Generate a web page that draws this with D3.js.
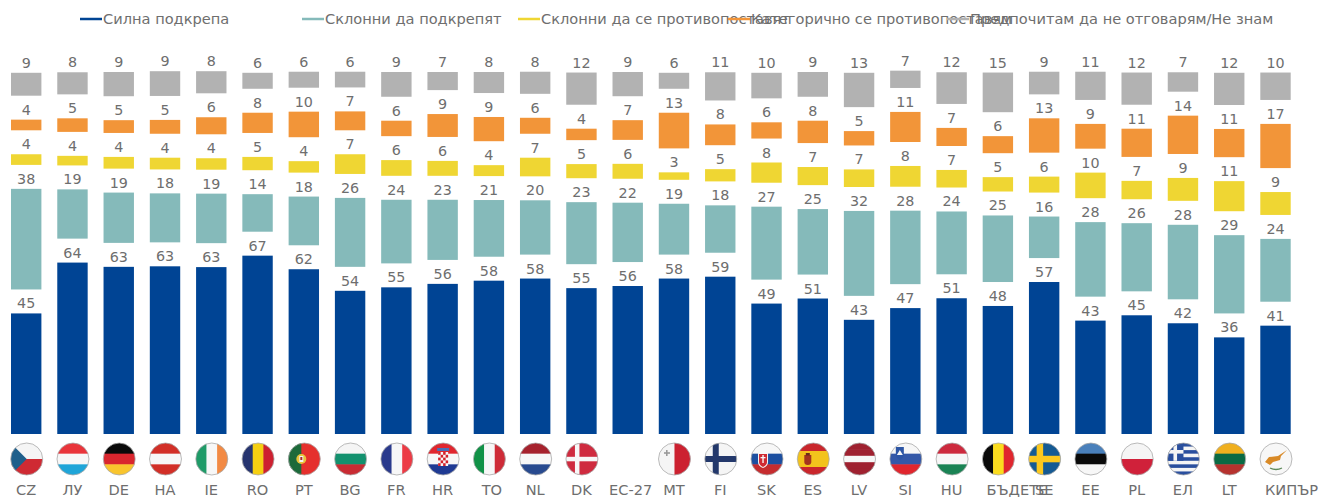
<!DOCTYPE html>
<html lang="bg">
<head>
<meta charset="UTF-8">
<title>Подкрепа</title>
<script src="https://cdn.jsdelivr.net/npm/d3@7"></script>
<style>
    body { margin: 0; background: #fff; overflow: hidden; }
    svg { display: block; }
    text { font-family: "DejaVu Sans", sans-serif; fill: #6e6e6e; }
</style>
</head>
<body>
<div id="chart"></div>
<script>
    const countries = ["CZ", "ЛУ", "DE", "НА", "IE", "RO", "PT", "BG", "FR", "HR", "ТО", "NL", "DK", "EC-27", "MT", "FI", "SK", "ES", "LV", "SI", "HU", "БЪДЕТЕ", "SE", "EE", "PL", "ЕЛ", "LT", "КИПЪР"];
    // values, the labels show them rounded
    const strong = [45.3, 64.4, 62.8, 63.0, 62.7, 67.0, 61.9, 53.8, 55.1, 56.4, 57.6, 58.4, 54.8, 55.6, 58.4, 59.1, 49.0, 50.9, 42.9, 47.3, 51.0, 48.1, 57.1, 42.6, 44.6, 41.6, 36.3, 40.7];
    const inclined = [37.8, 18.5, 18.9, 18.4, 18.6, 14.1, 18.3, 25.9, 23.9, 22.6, 21.3, 20.4, 23.3, 22.3, 19.1, 17.8, 27.4, 24.6, 31.9, 27.6, 23.6, 25.0, 15.6, 28.0, 25.6, 28.0, 29.4, 23.6];
    const opposed = [4.0, 3.6, 4.4, 4.4, 4.3, 5.0, 4.3, 7.4, 5.9, 5.6, 4.1, 7.0, 5.3, 5.6, 2.8, 4.6, 7.6, 6.8, 6.6, 7.8, 6.6, 5.4, 6.0, 9.6, 6.9, 8.6, 11.3, 8.6];
    const strongOpposed = [4.0, 5.1, 4.8, 5.2, 6.4, 7.6, 9.6, 7.1, 5.8, 8.6, 9.1, 6.0, 4.3, 7.4, 13.4, 7.8, 6.1, 8.4, 5.4, 11.3, 6.8, 6.4, 12.9, 9.3, 10.6, 14.4, 10.6, 16.6];
    const noAnswer = [8.6, 8.3, 9.1, 9.3, 8.3, 6.0, 6.0, 5.9, 9.3, 6.8, 7.9, 8.3, 12.1, 9.1, 6.0, 10.6, 9.6, 9.3, 12.9, 6.5, 11.9, 14.9, 8.5, 10.6, 12.1, 7.3, 12.1, 10.3];

    const seriesNames = ["Силна подкрепа", "Склонни да подкрепят", "Склонни да се противопоставят", "Категорично се противопоставям", "Предпочитам да не отговарям/Не знам"];
    const seriesColors = ["#004494", "#85baba", "#efd633", "#f29539", "#b2b2b2"];
    const seriesValues = [strong, inclined, opposed, strongOpposed, noAnswer];
    const spacer = 9; // invisible gap series between the segments

    // stripes of each flag, extras are added in drawFlag
    const flags = {
        "CZ": ["h", "#f5f5f5", "#cf2a33"],
        "ЛУ": ["h", "#e9353b", "#f7f7f7", "#1fa5d8"],
        "DE": ["h", "#0a0a0a", "#d9262e", "#f9c52d"],
        "НА": ["h", "#d22f27", "#f7f7f7", "#d22f27"],
        "IE": ["v", "#1f9b68", "#f7f7f7", "#f28a44"],
        "RO": ["v", "#26346f", "#f5cf12", "#cd2030"],
        "PT": ["v", "#1c6a3a", "#e5302d", "#e5302d"],
        "BG": ["h", "#f5f5f5", "#13916e", "#c92b33"],
        "FR": ["v", "#2a3a8c", "#f7f7f7", "#ec3b45"],
        "HR": ["h", "#e0262e", "#f7f7f7", "#1f3a93"],
        "ТО": ["v", "#119247", "#f7f7f7", "#ce2b37"],
        "NL": ["h", "#a6222d", "#f7f7f7", "#284a8f"],
        "DK": ["h", "#cf2b3f"],
        "MT": ["v", "#f5f5f5", "#cc2130"],
        "FI": ["h", "#f5f5f5"],
        "SK": ["h", "#f7f7f7", "#1c4fa0", "#c62c2f"],
        "ES": ["h", "#c9262c", "#f3c31c", "#f3c31c", "#c9262c"],
        "LV": ["h", "#9f2130", "#9f2130", "#f7f7f7", "#9f2130", "#9f2130"],
        "SI": ["h", "#f7f7f7", "#3458a8", "#e0262e"],
        "HU": ["h", "#cd2a3e", "#f7f7f7", "#1a8354"],
        "БЪДЕТЕ": ["v", "#0a0a0a", "#fbdc1f", "#e0262e"],
        "SE": ["h", "#155a93"],
        "EE": ["h", "#4a80bb", "#0a0a0a", "#f7f7f7"],
        "PL": ["h", "#f5f5f5", "#d0213a"],
        "ЕЛ": ["h", "#2a4f9e", "#f5f5f5", "#2a4f9e", "#f5f5f5", "#2a4f9e", "#f5f5f5", "#2a4f9e", "#f5f5f5", "#2a4f9e"],
        "LT": ["h", "#f0b01f", "#0a6a44", "#b6322e"],
        "КИПЪР": ["h", "#f7f7f7"]
    };

    const labelShift = { "ТО": 3, "EC-27": 3, "БЪДЕТЕ": 19, "КИПЪР": 16 };

    const width = 1333, height = 497;
    const svg = d3.select("#chart").append("svg").attr("width", width).attr("height", height);

    const x = d3.scaleBand().domain(countries).range([11, 1290.7]).paddingInner(0.343).paddingOuter(0);
    const y = d3.scaleLinear().domain([0, 100 + 4 * spacer]).range([434, 72]);

    // legend
    const legendX = [80, 302, 518, 728, 947];
    seriesNames.forEach((name, i) => {
        const g = svg.append("g").attr("transform", `translate(${legendX[i]},19)`);
        g.append("line").attr("x2", 22).attr("stroke", seriesColors[i]).attr("stroke-width", 2.5);
        g.append("text").attr("x", 23).attr("dy", "0.35em").attr("font-size", 14.6).text(name);
    });

    // stacked bars with the spacer between segments
    countries.forEach((c, i) => {
        let base = 0;
        const cx = x(c) + x.bandwidth() / 2;
        seriesValues.forEach((vals, s) => {
            const v = vals[i];
            svg.append("rect")
                .attr("x", x(c)).attr("width", x.bandwidth())
                .attr("y", y(base + v)).attr("height", y(base) - y(base + v))
                .attr("fill", seriesColors[s]);
            svg.append("text")
                .attr("x", cx).attr("y", y(base + v) - 5)
                .attr("text-anchor", "middle").attr("font-size", 14.3)
                .text(Math.round(v));
            base += v + spacer;
        });
        svg.append("text")
            .attr("x", cx + (labelShift[c] || 0)).attr("y", 495)
            .attr("text-anchor", "middle").attr("font-size", 14.6)
            .text(c);
        if (flags[c]) drawFlag(c, cx + 0.5, 459);
    });

    function drawFlag(c, cx, cy) {
        const r = 16;
        const id = "clip" + countries.indexOf(c);
        svg.append("clipPath").attr("id", id).append("circle").attr("r", r);
        const holder = svg.append("g").attr("transform", `translate(${cx},${cy})`);
        const g = holder.append("g").attr("clip-path", `url(#${id})`);
        const [dir, ...colors] = flags[c];

        // stripes
        const band = d3.scaleBand().domain(d3.range(colors.length)).range([-r, r]);
        colors.forEach((col, i) => {
            g.append("rect")
                .attr("x", dir === "v" ? band(i) : -r).attr("y", dir === "h" ? band(i) : -r)
                .attr("width", dir === "v" ? band.bandwidth() + 0.5 : 2 * r)
                .attr("height", dir === "h" ? band.bandwidth() + 0.5 : 2 * r)
                .attr("fill", col);
        });
        const rect = (px, py, w, h, col) => g.append("rect").attr("x", px).attr("y", py).attr("width", w).attr("height", h).attr("fill", col);
        const shape = (d, col) => g.append("path").attr("d", d).attr("fill", col);

        if (c === "CZ") shape("M-16,-16L0,0L-16,16Z", "#1f5f8b");
        if (c === "PT") {
            rect(-16, -16, 13, 32, "#1c6a3a");
            g.append("circle").attr("cx", -3).attr("r", 5).attr("fill", "#e8c33a");
            rect(-5, -3, 4, 6, "#f2f2f2");
            rect(-4, -2, 2, 3, "#b02a2a");
        }
        if (c === "HR") {
            rect(-5, -7, 10, 14, "#f7f7f7");
            d3.range(5).forEach(row => d3.range(4).forEach(col => {
                if ((row + col) % 2 === 0) rect(-5 + col * 2.5, -7 + row * 2.8, 2.5, 2.8, "#d3222a");
            }));
            rect(-6, -11, 12, 3, "#4a6fb5");
        }
        if (c === "DK") {
            rect(-7, -16, 4.5, 32, "#f7f7f7");
            rect(-16, -2.2, 32, 4.5, "#f7f7f7");
        }
        if (c === "MT") {
            rect(-8.5, -9, 1.6, 6, "#9a9a9a");
            rect(-10.5, -6.8, 6, 1.6, "#9a9a9a");
        }
        if (c === "FI") {
            rect(-8, -16, 6, 32, "#23386b");
            rect(-16, -3, 32, 6, "#23386b");
        }
        if (c === "SK") {
            shape("M-9,-6H1V3Q1,7-4,9Q-9,7-9,3Z", "#f7f7f7");
            shape("M-8,-5H0V3Q0,6-4,8Q-8,6-8,3Z", "#cf2a33");
            rect(-4.7, -4, 1.4, 8, "#f7f7f7");
            rect(-6.5, -2, 5, 1.3, "#f7f7f7");
        }
        if (c === "ES") {
            shape("M-9,-4H-2V3Q-2,6-5.5,6Q-9,6-9,3Z", "#a3341f");
            rect(-7.5, -6, 4, 2.5, "#6b2a1a");
        }
        if (c === "SI") {
            shape("M-10,-12H-2V-5Q-2,-1-6,1Q-10,-1-10,-5Z", "#2d55a5");
            shape("M-9,-4L-6,-9L-3,-4Z", "#f7f7f7");
        }
        if (c === "SE") {
            rect(-8, -16, 6.5, 32, "#fcc81e");
            rect(-16, -3.2, 32, 6.5, "#fcc81e");
        }
        if (c === "ЕЛ") {
            rect(-16, -16, 16, 17.8, "#2a4f9e");
            rect(-10, -16, 3.6, 17.8, "#f5f5f5");
            rect(-16, -9, 16, 3.6, "#f5f5f5");
        }
        if (c === "КИПЪР") {
            shape("M-11,3L-7,-2L2,-3L11,-9L5,-3L4,1L-3,3L-6,6Z", "#d98a27");
            g.append("path").attr("d", "M-6,9Q0,12,6,9").attr("fill", "none").attr("stroke", "#5d8a5a").attr("stroke-width", 1.3);
        }
        holder.append("circle").attr("r", r).attr("fill", "none").attr("stroke", "#aaaaaa").attr("stroke-width", 0.8);
    }
</script>
</body>
</html>
